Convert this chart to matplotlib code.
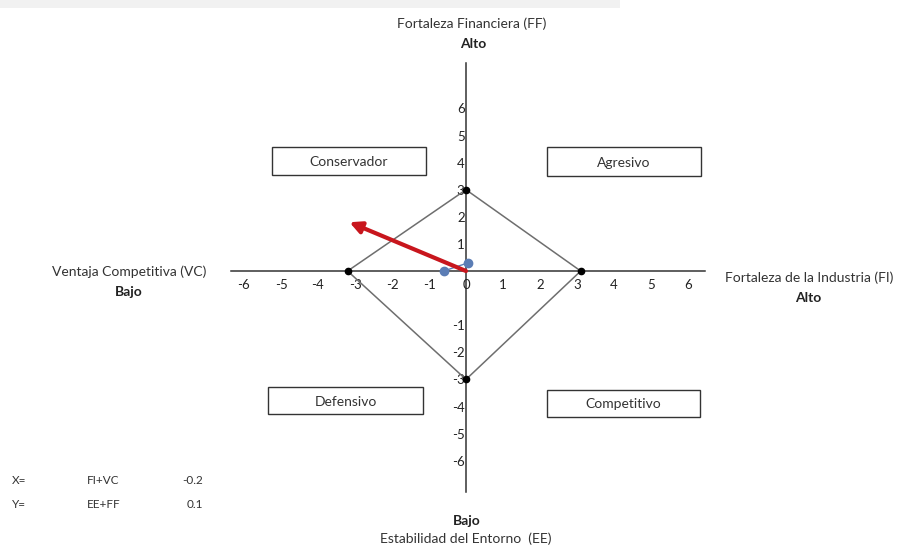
import numpy as np
import matplotlib.pyplot as plt
from matplotlib.patches import Rectangle

plt.rcParams['font.family'] = ['Lato', 'DejaVu Sans']

W, H = 898, 548

# diamond vertices: VC, FF, FI, EE
diamond_x = [-3.2, 0.0, 3.1, 0.0, -3.2]
diamond_y = [0.0, 3.0, 0.0, -3.0, 0.0]

# resulting vector
arrow_end = (-3.15, 1.8)

# blue points
pts_x = [-0.6, 0.05]
pts_y = [0.0, 0.3]

x_ticks = list(range(-6, 7))
y_ticks = [-6, -5, -4, -3, -2, -1, 1, 2, 3, 4, 5, 6]

quadrants = ['Conservador', 'Agresivo', 'Defensivo', 'Competitivo']

res_rows = ['X=', 'Y=']
res_formula = ['FI+VC', 'EE+FF']
res_values = [-0.2, 0.1]


# the lower half of the vertical axis sits one unit further down
def fwd(y):
    y = np.asarray(y, dtype=float)
    return np.where(y < 0, y - 1, y)


def inv(v):
    v = np.asarray(v, dtype=float)
    return np.where(v < -1, v + 1, np.where(v < 0, 0, v))


def px(x, y):
    return x / W, 1 - y / H


fig = plt.figure(figsize=(W / 100, H / 100), dpi=100)
ax = fig.add_axes([0, 0, 1, 1])
ax.set_yscale('function', functions=(fwd, inv))
ax.set_xlim(-466 / 37, 432 / 37)
ax.set_ylim(-9.22, 10.0)

for s in ['top', 'right']:
    ax.spines[s].set_visible(False)
ax.spines['left'].set_position(('data', 0))
ax.spines['bottom'].set_position(('data', 0))
ax.spines['left'].set_bounds(-7.15, 7.68)
ax.spines['bottom'].set_bounds(-6.35, 6.46)
for s in ['left', 'bottom']:
    ax.spines[s].set_linewidth(1.1)
    ax.spines[s].set_color('#333333')
    ax.spines[s].set_zorder(1)

ax.set_xticks(x_ticks)
ax.set_yticks(y_ticks)
ax.set_xticklabels([str(t) for t in x_ticks])
ax.set_yticklabels([str(t) for t in y_ticks])
ax.tick_params(axis='x', length=0, pad=6, labelsize=9.5, colors='#222222')
ax.tick_params(axis='y', length=0, pad=1, labelsize=9.5, colors='#222222')
ax.set_facecolor('none')

ax.plot(diamond_x, diamond_y, color='#6e6e6e', lw=1.1, zorder=2)
ax.plot(diamond_x[:-1], diamond_y[:-1], 'o', color='black', ms=4.5, zorder=3)

ax.plot(pts_x, pts_y, '-o', color='#5b7db5', lw=1, ms=6, zorder=4)

ax.annotate('', xy=arrow_end, xytext=(0, 0),
            arrowprops=dict(arrowstyle='-|>,head_length=0.7,head_width=0.35',
                            color='#c8161d', lw=3, shrinkA=0, shrinkB=0),
            zorder=5)

# quadrant boxes
boxes = [(272, 147, 426, 175), (547, 147, 701, 176),
         (268, 387, 423, 414), (547, 390, 700, 417)]
for name, (x0, y0, x1, y1) in zip(quadrants, boxes):
    fig.patches.append(Rectangle((x0 / W, 1 - y1 / H), (x1 - x0) / W, (y1 - y0) / H,
                                 transform=fig.transFigure, fill=False,
                                 edgecolor='#333333', lw=1))
    fig.text(*px((x0 + x1) / 2, (y0 + y1) / 2 + 1), name, ha='center', va='center',
             fontsize=10, color='#333333')

# axis names
fs = 10
fig.text(*px(472, 24), 'Fortaleza Financiera (FF)', ha='center', va='center', fontsize=fs, color='#333333')
fig.text(*px(473, 44), 'Alto', ha='center', va='center', fontsize=fs, fontweight='bold', color='#222222')
fig.text(*px(129, 272), 'Ventaja Competitiva (VC)', ha='center', va='center', fontsize=fs, color='#333333')
fig.text(*px(129, 292), 'Bajo', ha='center', va='center', fontsize=fs, fontweight='bold', color='#222222')
fig.text(*px(809, 278), 'Fortaleza de la Industria (FI)', ha='center', va='center', fontsize=fs, color='#333333')
fig.text(*px(808, 298), 'Alto', ha='center', va='center', fontsize=fs, fontweight='bold', color='#222222')
fig.text(*px(467, 521), 'Bajo', ha='center', va='center', fontsize=fs, fontweight='bold', color='#222222')
fig.text(*px(466, 539), 'Estabilidad del Entorno  (EE)', ha='center', va='center', fontsize=fs, color='#333333')

# result table
for i, (r, f, v) in enumerate(zip(res_rows, res_formula, res_values)):
    yy = 481 + 23 * i
    fig.text(*px(12, yy), r, ha='left', va='center', fontsize=8.5, color='#333333')
    fig.text(*px(87, yy), f, ha='left', va='center', fontsize=8.5, color='#333333')
    fig.text(*px(203, yy), f'{v:g}', ha='right', va='center', fontsize=8.5, color='#333333')

# faint band along the top edge
fig.patches.append(Rectangle((0, 1 - 8 / H), 620 / W, 8 / H, transform=fig.transFigure,
                             color='#f1f1f1', lw=0, zorder=0))

fig.savefig('out.png', dpi=100)
